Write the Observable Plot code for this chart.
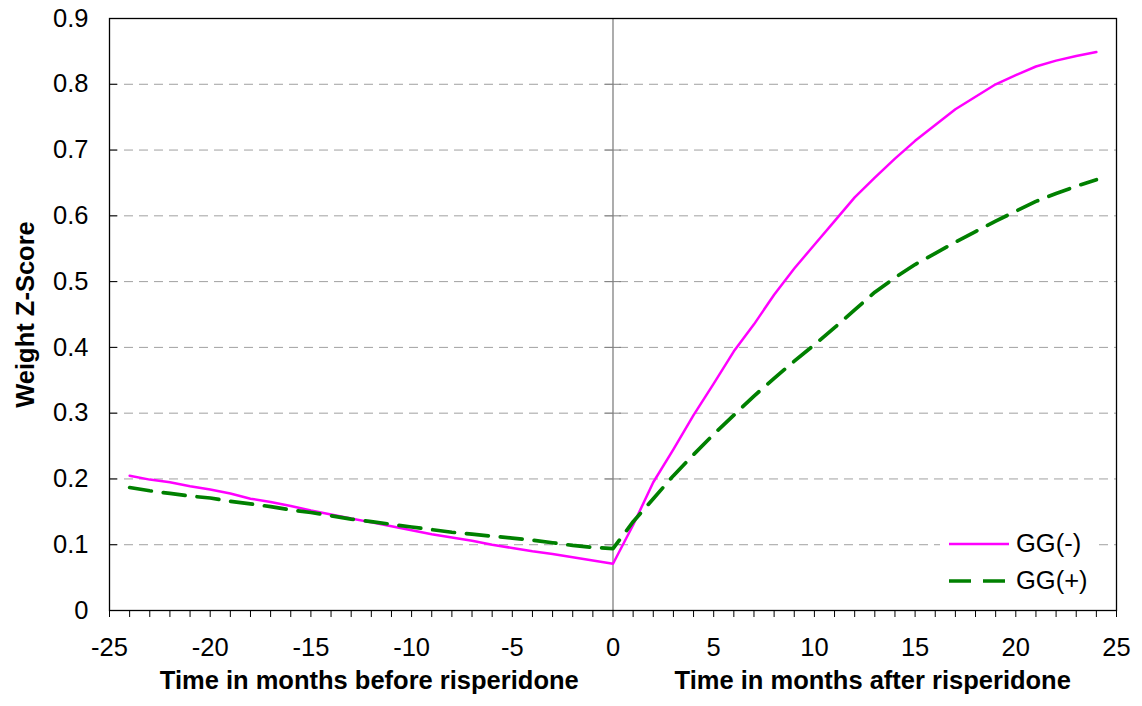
<!DOCTYPE html>
<html>
<head>
<meta charset="utf-8">
<script src="https://cdn.jsdelivr.net/npm/d3@7"></script>
<script src="https://cdn.jsdelivr.net/npm/@observablehq/plot@0.6"></script>
<style>
  html, body { margin: 0; padding: 0; background: #fff; }
  #wrap { position: relative; width: 1142px; height: 706px; font-family: "Liberation Sans", Arial, sans-serif; }
  #legend { position: absolute; left: 940px; top: 525px; width: 156px; background: #fff; font-size: 25.5px; color: #000; }
  #legend .row { display: flex; align-items: center; height: 37px; }
  #legend svg { margin-left: 9px; margin-right: 7px; }
</style>
</head>
<body>
<div id="wrap"></div>
<script>
const months = [-24,-23,-22,-21,-20,-19,-18,-17,-16,-15,-14,-13,-12,-11,-10,-9,-8,-7,-6,-5,-4,-3,-2,-1,0,
  1,2,3,4,5,6,7,8,9,10,11,12,13,14,15,16,17,18,19,20,21,22,23,24];
const ggMinus = [0.205,0.199,0.195,0.189,0.184,0.178,0.170,0.165,0.159,0.152,0.146,0.140,0.134,0.128,0.122,0.116,0.111,0.106,0.100,0.095,0.090,0.086,0.081,0.076,0.071,
  0.130,0.195,0.245,0.297,0.345,0.394,0.435,0.480,0.520,0.556,0.592,0.628,0.658,0.687,0.714,0.738,0.762,0.781,0.800,0.814,0.827,0.836,0.843,0.849];
const ggPlus = [0.187,0.182,0.178,0.174,0.171,0.166,0.162,0.158,0.153,0.149,0.144,0.139,0.135,0.131,0.127,0.123,0.119,0.116,0.113,0.110,0.107,0.103,0.099,0.096,0.094,
  0.135,0.170,0.205,0.237,0.268,0.297,0.326,0.353,0.379,0.404,0.430,0.457,0.484,0.506,0.526,0.543,0.560,0.576,0.592,0.607,0.622,0.634,0.645,0.655];
const seriesNames = ["GG(-)", "GG(+)"];
const seriesColors = ["#ff00ff", "#008000"];
const xTickValues = [-25,-20,-15,-10,-5,0,5,10,15,20,25];
const xMinorTicks = [-25,-24,-23,-22,-21,-20,-19,-18,-17,-16,-15,-14,-13,-12,-11,-10,-9,-8,-7,-6,-5,-4,-3,-2,-1,0,1,2,3,4,5,6,7,8,9,10,11,12,13,14,15,16,17,18,19,20,21,22,23,24,25];
const yTickValues = [0,0.1,0.2,0.3,0.4,0.5,0.6,0.7,0.8,0.9];
const gridValues = [0.1,0.2,0.3,0.4,0.5,0.6,0.7,0.8];
const yTitle = "Weight Z-Score";
const xTitles = [
  {label: "Time in months before risperidone", from: -25, to: 0},
  {label: "Time in months after risperidone", from: 0, to: 25}
];

const dataMinus = months.map((m, i) => ({x: m, y: ggMinus[i]}));
const dataPlus = months.map((m, i) => ({x: m, y: ggPlus[i]}));

const font = "'Liberation Sans', Arial, sans-serif";

const chart = Plot.plot({
  width: 1142,
  height: 706,
  marginLeft: 109,
  marginRight: 26,
  marginTop: 18,
  marginBottom: 96,
  style: {fontFamily: font, fontSize: "25.5px", background: "#fff", color: "#000"},
  x: {domain: [-25, 25]},
  y: {domain: [0, 0.9]},
  marks: [
    Plot.ruleY(gridValues, {stroke: "#a0a0a0", strokeWidth: 1, strokeDasharray: "9,6"}),
    Plot.ruleX([0], {stroke: "#808080", strokeWidth: 1.3}),
    // inward ticks on left axis
    Plot.tickY(yTickValues, {y: d => d, stroke: "#000", strokeWidth: 1, insetRight: 999}),
    // cross ticks on the zero line
    Plot.tickY(gridValues, {y: d => d, stroke: "#808080", strokeWidth: 1, insetLeft: 496, insetRight: 495}),
    Plot.axisX(xMinorTicks, {tickSize: 7, tickPadding: 20, tickFormat: d => (xTickValues.includes(d) ? String(d) : ""), fontSize: 25.5, stroke: "#000", label: null}),
    Plot.axisY(yTickValues, {tickSize: 0, tickPadding: 21, tickFormat: d => String(d), fontSize: 25.5, label: null}),
    Plot.line(dataMinus, {x: "x", y: "y", stroke: seriesColors[0], strokeWidth: 2.5}),
    Plot.line(dataPlus, {x: "x", y: "y", stroke: seriesColors[1], strokeWidth: 3.7, strokeDasharray: "22,12"}),
    Plot.frame({stroke: "#000", strokeWidth: 1.3}),
    Plot.text(xTitles, {x: d => (d.from + d.to) / 2, text: "label", frameAnchor: "bottom", dy: 78, dx: 8, fontWeight: "bold", fontSize: 25.5, fill: "#000"}),
    Plot.text([yTitle], {text: d => d, frameAnchor: "left", textAnchor: "middle", rotate: -90, dx: -84, dy: 0, fontWeight: "bold", fontSize: 25.5, fill: "#000"})
  ]
});

const wrap = document.getElementById("wrap");
wrap.appendChild(chart);

const legend = document.createElement("div");
legend.id = "legend";
legend.innerHTML = seriesNames.map((name, i) => {
  const dash = i === 1 ? 'stroke-dasharray="22,12"' : '';
  const sw = i === 1 ? 3.7 : 2.5;
  return `<div class="row"><svg width="60" height="10"><line x1="0" y1="5" x2="60" y2="5" stroke="${seriesColors[i]}" stroke-width="${sw}" ${dash}/></svg><span>${name}</span></div>`;
}).join("");
wrap.appendChild(legend);
</script>
</body>
</html>
